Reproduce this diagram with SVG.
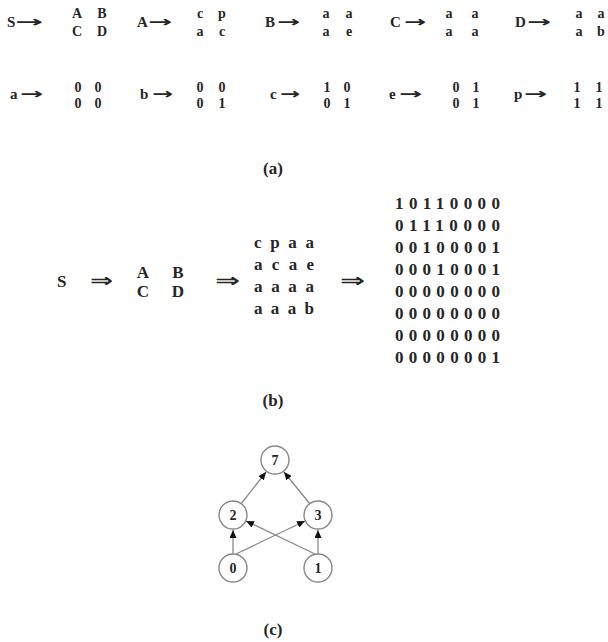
<svg xmlns="http://www.w3.org/2000/svg" width="608" height="642" viewBox="0 0 608 642">
<style>
text{font-family:"Liberation Serif","DejaVu Serif",serif;font-weight:bold;fill:#262626}
.r{font-size:15px}
.m{font-size:14px;text-anchor:middle}
.arr{font-family:"DejaVu Sans",sans-serif;font-weight:bold;font-size:15px}
.b{font-size:17px}
.bm{font-size:17px}
.dar{font-family:"DejaVu Sans",sans-serif;font-weight:bold;font-size:19px}
.cap{font-size:17px;text-anchor:middle}
.node circle{fill:#fff;stroke:#888;stroke-width:1.4}
.node text{font-size:14px;text-anchor:middle}
.edges line{stroke:#8a8a8a;stroke-width:1.3}
</style>
<defs>
<marker id="ah" markerWidth="8" markerHeight="7" refX="8" refY="3.5" orient="auto" markerUnits="userSpaceOnUse">
<path d="M0,0 L8,3.5 L0,7 z" fill="#111"/>
</marker>
</defs>
<rect width="608" height="642" fill="#fff"/>
<g id="part-a">
<g id="rule-S"><text class="r" x="7" y="27">S<tspan class="arr" x="15" textLength="28" lengthAdjust="spacingAndGlyphs">→</tspan></text>
<text class="m" y="18"><tspan x="77">A</tspan><tspan x="102">B</tspan></text><text class="m" y="36"><tspan x="77">C</tspan><tspan x="102">D</tspan></text></g>
<g id="rule-A"><text class="r" x="137" y="27">A<tspan class="arr" x="148" textLength="24" lengthAdjust="spacingAndGlyphs">→</tspan></text>
<text class="m" y="18"><tspan x="200">c</tspan><tspan x="222">p</tspan></text><text class="m" y="36"><tspan x="200">a</tspan><tspan x="222">c</tspan></text></g>
<g id="rule-B"><text class="r" x="265" y="27">B<tspan class="arr" x="277" textLength="23" lengthAdjust="spacingAndGlyphs">→</tspan></text>
<text class="m" y="18"><tspan x="326">a</tspan><tspan x="349">a</tspan></text><text class="m" y="36"><tspan x="326">a</tspan><tspan x="349">e</tspan></text></g>
<g id="rule-C"><text class="r" x="390" y="27">C<tspan class="arr" x="404" textLength="22" lengthAdjust="spacingAndGlyphs">→</tspan></text>
<text class="m" y="18"><tspan x="449">a</tspan><tspan x="475">a</tspan></text><text class="m" y="36"><tspan x="449">a</tspan><tspan x="475">a</tspan></text></g>
<g id="rule-D"><text class="r" x="515" y="27">D<tspan class="arr" x="527" textLength="24" lengthAdjust="spacingAndGlyphs">→</tspan></text>
<text class="m" y="18"><tspan x="579">a</tspan><tspan x="601">a</tspan></text><text class="m" y="36"><tspan x="579">a</tspan><tspan x="601">b</tspan></text></g>

<g id="rule-a"><text class="r" x="10" y="99">a<tspan class="arr" x="20" textLength="23" lengthAdjust="spacingAndGlyphs">→</tspan></text>
<text class="m" y="92"><tspan x="78">0</tspan><tspan x="98">0</tspan></text><text class="m" y="108"><tspan x="78">0</tspan><tspan x="98">0</tspan></text></g>
<g id="rule-b"><text class="r" x="140" y="99">b<tspan class="arr" x="152" textLength="21" lengthAdjust="spacingAndGlyphs">→</tspan></text>
<text class="m" y="92"><tspan x="200">0</tspan><tspan x="222">0</tspan></text><text class="m" y="108"><tspan x="200">0</tspan><tspan x="222">1</tspan></text></g>
<g id="rule-c"><text class="r" x="270" y="99">c<tspan class="arr" x="280" textLength="20" lengthAdjust="spacingAndGlyphs">→</tspan></text>
<text class="m" y="92"><tspan x="327">1</tspan><tspan x="347">0</tspan></text><text class="m" y="108"><tspan x="327">0</tspan><tspan x="347">1</tspan></text></g>
<g id="rule-e"><text class="r" x="389" y="99">e<tspan class="arr" x="399" textLength="23" lengthAdjust="spacingAndGlyphs">→</tspan></text>
<text class="m" y="92"><tspan x="456">0</tspan><tspan x="476">1</tspan></text><text class="m" y="108"><tspan x="456">0</tspan><tspan x="476">1</tspan></text></g>
<g id="rule-p"><text class="r" x="514" y="99">p<tspan class="arr" x="524" textLength="23" lengthAdjust="spacingAndGlyphs">→</tspan></text>
<text class="m" y="92"><tspan x="577">1</tspan><tspan x="599">1</tspan></text><text class="m" y="108"><tspan x="577">1</tspan><tspan x="599">1</tspan></text></g>
<text class="cap" x="273" y="174">(a)</text>
</g>

<g id="part-b">
<text class="b" x="57" y="287">S</text>
<text class="dar" x="90" y="287" textLength="23" lengthAdjust="spacingAndGlyphs">⇒</text>
<text class="b" y="278" text-anchor="middle"><tspan x="143">A</tspan><tspan x="178">B</tspan></text>
<text class="b" y="297" text-anchor="middle"><tspan x="143">C</tspan><tspan x="178">D</tspan></text>
<text class="dar" x="215" y="287" textLength="25" lengthAdjust="spacingAndGlyphs">⇒</text>
<g class="bm">
<text x="254" y="248" textLength="60">cpaa</text>
<text x="254" y="270" textLength="60">acae</text>
<text x="254" y="292" textLength="60">aaaa</text>
<text x="254" y="314" textLength="60">aaab</text>
</g>
<text class="dar" x="340" y="287" textLength="25" lengthAdjust="spacingAndGlyphs">⇒</text>
<g class="bm">
<text x="395" y="209" textLength="105">10110000</text>
<text x="395" y="231" textLength="105">01110000</text>
<text x="395" y="253" textLength="105">00100001</text>
<text x="395" y="275" textLength="105">00010001</text>
<text x="395" y="297" textLength="105">00000000</text>
<text x="395" y="319" textLength="105">00000000</text>
<text x="395" y="341" textLength="105">00000000</text>
<text x="395" y="363" textLength="105">00000001</text>
</g>
<text class="cap" x="273" y="406">(b)</text>
</g>

<g id="part-c">
<g class="edges">
<line x1="233" y1="554" x2="233" y2="530" marker-end="url(#ah)"/>
<line x1="318" y1="554" x2="318" y2="530" marker-end="url(#ah)"/>
<line x1="236" y1="554" x2="305" y2="521" marker-end="url(#ah)"/>
<line x1="315" y1="554" x2="246" y2="521" marker-end="url(#ah)"/>
<line x1="241" y1="504" x2="266" y2="472" marker-end="url(#ah)"/>
<line x1="310" y1="504" x2="284" y2="472" marker-end="url(#ah)"/>
</g>
<g id="node-7" class="node"><circle cx="275" cy="460" r="14"/><text x="275" y="465">7</text></g>
<g id="node-2" class="node"><circle cx="233" cy="515" r="14"/><text x="233" y="520">2</text></g>
<g id="node-3" class="node"><circle cx="318" cy="515" r="14"/><text x="318" y="520">3</text></g>
<g id="node-0" class="node"><circle cx="233" cy="568" r="14"/><text x="233" y="573">0</text></g>
<g id="node-1" class="node"><circle cx="318" cy="568" r="14"/><text x="318" y="573">1</text></g>
<text class="cap" x="273" y="635">(c)</text>
</g>
</svg>
